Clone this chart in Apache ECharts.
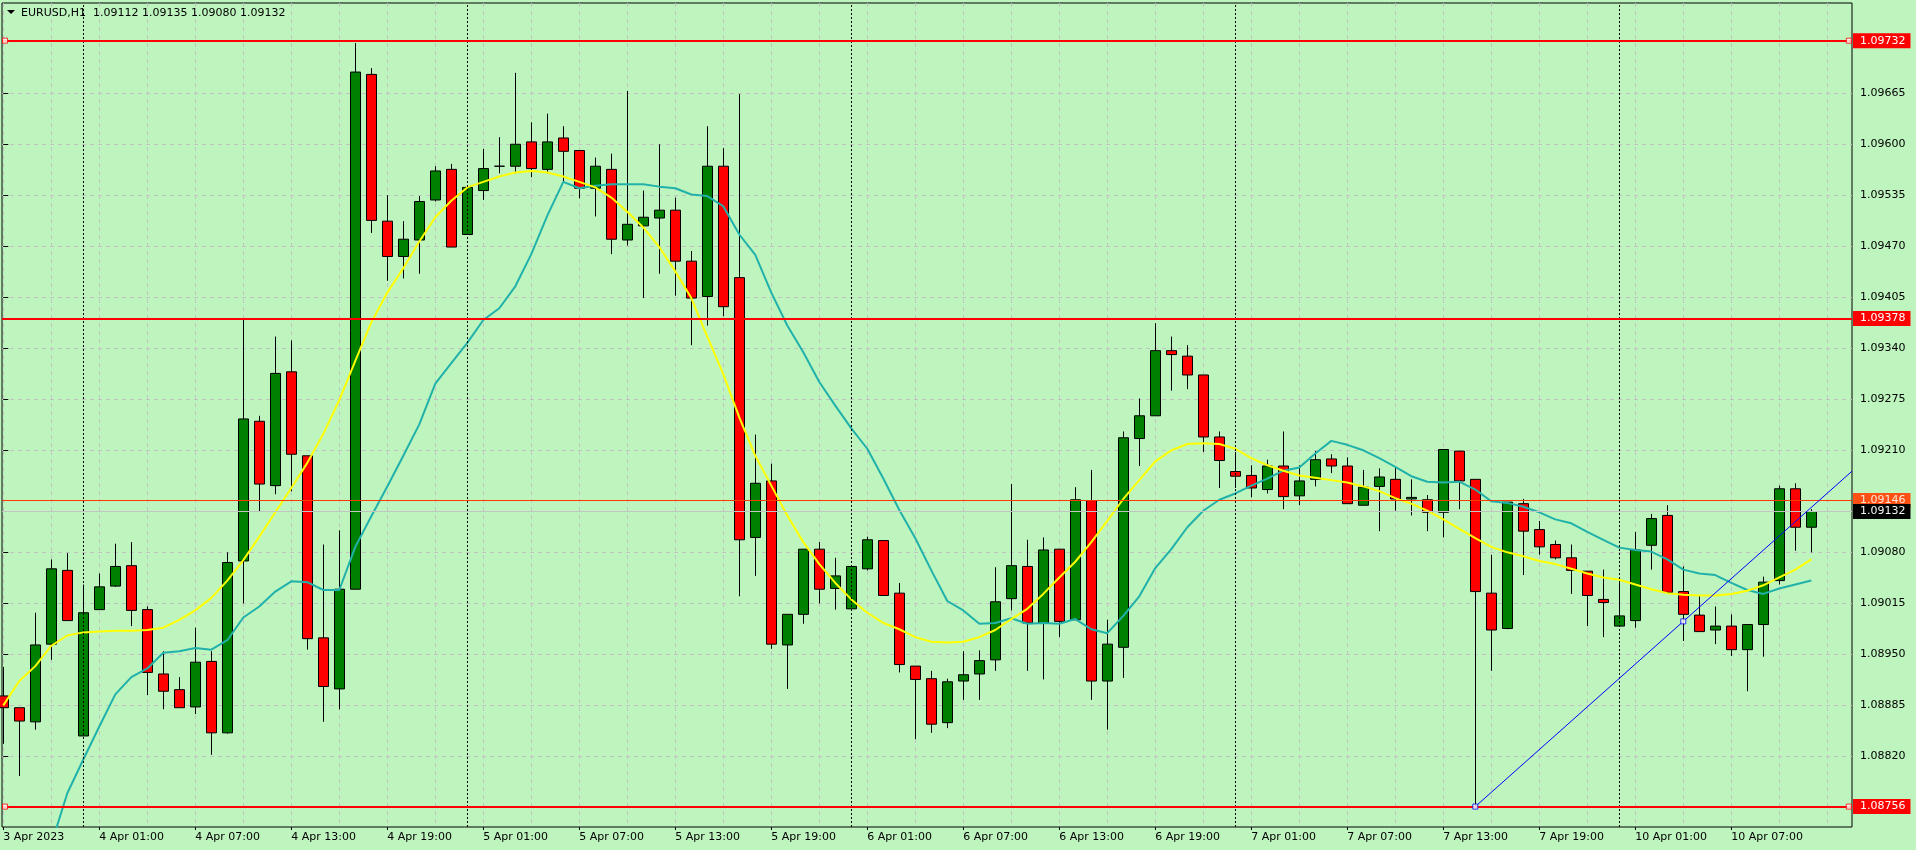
<!DOCTYPE html>
<html>
<head>
<meta charset="utf-8">
<script src="https://cdn.jsdelivr.net/npm/echarts@6.0.0/dist/echarts.min.js"></script>
<style>
html,body{margin:0;padding:0;background:#BEF4BE;}
#chart{width:1916px;height:850px;}
</style>
</head>
<body>
<div id="chart"></div>
<script>
// ---------- DATA ----------
const symbolName = 'EURUSD,H1';

const opens = [1.08897,1.08882,1.08864,1.08963,1.09057,1.08846,1.09007,1.09037,1.09063,1.09007,
1.08925,1.08905,1.08883,1.08941,1.08850,1.09069,1.09247,1.09165,1.09310,1.09203,
1.08971,1.08906,1.09033,1.09689,1.09502,1.09457,1.09478,1.09529,1.09568,1.09485,
1.09541,1.09572,1.09572,1.09603,1.09568,1.09608,1.09592,1.09544,1.09568,1.09478,
1.09496,1.09506,1.09516,1.09451,1.09406,1.09572,1.09430,1.09099,1.09171,1.08962,
1.09001,1.09084,1.09034,1.09008,1.09059,1.09095,1.09028,1.08935,1.08919,1.08863,
1.08916,1.08925,1.08943,1.09021,1.09062,1.08990,1.09084,1.08994,1.09146,1.08916,
1.08959,1.09225,1.09254,1.09337,1.09330,1.09306,1.09227,1.09183,1.09178,1.09160,
1.09190,1.09152,1.09173,1.09199,1.09190,1.09140,1.09164,1.09173,1.09148,1.09147,
1.09131,1.09209,1.09173,1.09028,1.08983,1.09142,1.09109,1.09090,1.09073,1.09056,
1.09020,1.08986,1.08993,1.09089,1.09127,1.09030,1.09000,1.08981,1.08986,1.08956,
1.08988,1.09044,1.09161,1.09112];

const highs = [1.08934,1.08882,1.09003,1.09071,1.09079,1.09039,1.09053,1.09091,1.09093,1.09011,
1.08954,1.08921,1.08984,1.08954,1.09080,1.09376,1.09254,1.09355,1.09350,1.09203,
1.09090,1.09108,1.09729,1.09697,1.09535,1.09502,1.09534,1.09572,1.09575,1.09545,
1.09594,1.09609,1.09691,1.09628,1.09639,1.09623,1.09592,1.09583,1.09588,1.09668,
1.09541,1.09600,1.09532,1.09464,1.09623,1.09595,1.09664,1.09230,1.09193,1.09001,
1.09084,1.09093,1.09073,1.09062,1.09100,1.09095,1.09041,1.08935,1.08929,1.08919,
1.08954,1.08955,1.09061,1.09167,1.09096,1.09099,1.09084,1.09163,1.09185,1.08994,
1.09234,1.09276,1.09372,1.09355,1.09344,1.09306,1.09234,1.09208,1.09191,1.09198,
1.09234,1.09191,1.09209,1.09205,1.09201,1.09185,1.09187,1.09189,1.09173,1.09153,
1.09211,1.09209,1.09173,1.09077,1.09144,1.09148,1.09120,1.09095,1.09090,1.09056,
1.09058,1.09041,1.09106,1.09129,1.09140,1.09062,1.09025,1.09011,1.09001,1.08988,
1.09049,1.09165,1.09168,1.09135];

const lows = [1.08836,1.08795,1.08854,1.08943,1.08993,1.08846,1.09007,1.09036,1.08986,1.08898,
1.08880,1.08882,1.08874,1.08822,1.08849,1.09015,1.09132,1.09154,1.09158,1.08956,
1.08864,1.08880,1.09033,1.09487,1.09426,1.09429,1.09435,1.09527,1.09469,1.09485,
1.09529,1.09563,1.09563,1.09558,1.09563,1.09552,1.09531,1.09508,1.09460,1.09471,
1.09404,1.09435,1.09407,1.09344,1.09369,1.09381,1.09024,1.09050,1.08957,1.08906,
1.08989,1.09015,1.09007,1.09008,1.09057,1.09025,1.08927,1.08842,1.08850,1.08856,
1.08892,1.08892,1.08929,1.09006,1.08929,1.08918,1.08972,1.08994,1.08892,1.08854,
1.08920,1.09190,1.09254,1.09286,1.09288,1.09208,1.09162,1.09162,1.09150,1.09155,
1.09135,1.09140,1.09164,1.09181,1.09142,1.09140,1.09107,1.09133,1.09127,1.09107,
1.09099,1.09135,1.08756,1.08929,1.08982,1.09051,1.09077,1.09071,1.09027,1.08986,
1.08972,1.08986,1.08984,1.09058,1.09029,1.08967,1.08979,1.08963,1.08948,1.08903,
1.08947,1.09039,1.09082,1.09080];

const closes = [1.08882,1.08865,1.08962,1.09059,1.08993,1.09003,1.09036,1.09062,1.09006,1.08927,
1.08903,1.08882,1.08940,1.08850,1.09067,1.09250,1.09167,1.09308,1.09205,1.08970,
1.08909,1.09033,1.09692,1.09503,1.09457,1.09479,1.09527,1.09566,1.09469,1.09545,
1.09569,1.09572,1.09600,1.09569,1.09603,1.09591,1.09544,1.09572,1.09479,1.09498,
1.09507,1.09516,1.09451,1.09404,1.09572,1.09393,1.09096,1.09168,1.08963,1.09001,
1.09084,1.09033,1.09050,1.09062,1.09096,1.09025,1.08937,1.08918,1.08861,1.08915,
1.08924,1.08942,1.09017,1.09063,1.08990,1.09083,1.08992,1.09147,1.08916,1.08963,
1.09226,1.09254,1.09337,1.09332,1.09306,1.09227,1.09197,1.09177,1.09162,1.09190,
1.09151,1.09171,1.09198,1.09190,1.09142,1.09163,1.09176,1.09148,1.09150,1.09131,
1.09211,1.09171,1.09030,1.08981,1.09144,1.09107,1.09087,1.09073,1.09057,1.09025,
1.09016,1.08999,1.09083,1.09123,1.09029,1.09001,1.08979,1.08986,1.08956,1.08988,
1.09042,1.09161,1.09112,1.09132];

// yellow moving average (one value per bar)
const maFast = [1.08885,1.08916,1.08935,1.08961,1.08974,1.08978,1.08979,1.08980,1.08980,1.08981,
1.08984,1.08994,1.09006,1.09022,1.09044,1.09070,1.09100,1.09131,1.09162,1.09194,
1.09231,1.09274,1.09324,1.09373,1.09411,1.09442,1.09476,1.09507,1.09528,1.09545,
1.09552,1.09559,1.09564,1.09566,1.09564,1.09559,1.09552,1.09545,1.09532,1.09514,
1.09494,1.09469,1.09438,1.09404,1.09355,1.09307,1.09252,1.09203,1.09165,1.09127,
1.09093,1.09065,1.09041,1.09020,1.09003,1.08990,1.08982,1.08972,1.08966,1.08965,
1.08966,1.08972,1.08981,1.08995,1.09008,1.09027,1.09048,1.09068,1.09093,1.09120,
1.09148,1.09172,1.09196,1.09210,1.09218,1.09219,1.09218,1.09212,1.09200,1.09191,
1.09184,1.09178,1.09175,1.09172,1.09169,1.09164,1.09158,1.09149,1.09142,1.09133,
1.09122,1.09110,1.09098,1.09087,1.09080,1.09075,1.09069,1.09065,1.09059,1.09053,
1.09048,1.09045,1.09039,1.09033,1.09028,1.09026,1.09025,1.09025,1.09027,1.09031,
1.09038,1.09048,1.09058,1.09071];

// teal moving average (starts below the visible range on the left)
const maSlow = [null,null,null,1.08708,1.08773,1.08816,1.08858,1.08899,1.08921,1.08932,
1.08952,1.08954,1.08958,1.08956,1.08968,1.08997,1.09011,1.09030,1.09043,1.09042,
1.09032,1.09032,1.09087,1.09126,1.09164,1.09203,1.09243,1.09295,1.09321,1.09347,
1.09376,1.09391,1.09419,1.09460,1.09509,1.09552,1.09544,1.09547,1.09549,1.09549,
1.09549,1.09546,1.09544,1.09536,1.09534,1.09521,1.09485,1.09459,1.09411,1.09369,
1.09335,1.09297,1.09267,1.09238,1.09212,1.09174,1.09134,1.09098,1.09057,1.09018,
1.09006,1.08989,1.08990,1.08996,1.08989,1.08990,1.08989,1.08995,1.08982,1.08977,
1.08999,1.09024,1.09060,1.09084,1.09112,1.09133,1.09147,1.09155,1.09165,1.09174,
1.09184,1.09188,1.09206,1.09222,1.09217,1.09210,1.09200,1.09189,1.09177,1.09170,
1.09169,1.09170,1.09160,1.09145,1.09143,1.09138,1.09131,1.09122,1.09117,1.09106,
1.09096,1.09086,1.09083,1.09081,1.09071,1.09058,1.09053,1.09051,1.09041,1.09032,
1.09027,1.09034,1.09039,1.09044];

// time axis labels (bar index -> text)
const timeLabelBars = [0,6,12,18,24,30,36,42,48,54,60,66,72,78,84,90,96,102,108];
const timeLabels = ['3 Apr 2023','4 Apr 01:00','4 Apr 07:00','4 Apr 13:00','4 Apr 19:00',
'5 Apr 01:00','5 Apr 07:00','5 Apr 13:00','5 Apr 19:00','6 Apr 01:00','6 Apr 07:00',
'6 Apr 13:00','6 Apr 19:00','7 Apr 01:00','7 Apr 07:00','7 Apr 13:00','7 Apr 19:00',
'10 Apr 01:00','10 Apr 07:00'];
const gridBars = [0,3,6,9,12,15,18,21,24,27,30,33,36,39,42,45,48,51,54,57,60,63,66,69,72,75,78,81,84,87,90,93,96,99,102,105,108,111,114];
const daySeparatorBars = [5,29,53,77,101];

// price axis tick labels
const priceTicks = [1.08820,1.08885,1.08950,1.09015,1.09080,1.09210,1.09275,1.09340,1.09405,1.09470,1.09535,1.09600,1.09665];

// horizontal levels
const levelPrices = [1.09732, 1.09378, 1.08756];
const orangeLevel = 1.09146;
const bidPrice = 1.09132;

// trend line anchors [bar, price]
const trendAnchors = [[92, 1.08756], [105, 1.08992]];

// ---------- CHART ----------
const BG = '#BEF4BE';
const FONT = 'DejaVu Sans';
const X_MIN = -0.081, X_MAX = 115.544;
const Y_MIN = 1.08730, Y_MAX = 1.09780;

const candleData = opens.map((o, i) => [i, o, closes[i], lows[i], highs[i]]);
const fastData = maFast.map((v, i) => [i, v]);
const slowData = maSlow.map((v, i) => [i, v]).filter(d => d[1] !== null);

const slope = (trendAnchors[1][1] - trendAnchors[0][1]) / (trendAnchors[1][0] - trendAnchors[0][0]);
const trendData = [trendAnchors[0], [X_MAX, trendAnchors[0][1] + slope * (X_MAX - trendAnchors[0][0])]];

const handleData = [];
[levelPrices[0], levelPrices[2]].forEach(p => { handleData.push([X_MIN + 0.19, p]); handleData.push([X_MAX - 0.2, p]); });

const lblBase = {show: true, position: 'end', distance: 1, fontFamily: FONT, fontSize: 11, padding: [1, 5, 1, 7], lineHeight: 13};

const levelLines = levelPrices.map(p => ({
  yAxis: p,
  lineStyle: {color: '#FF0000', width: 2, type: 'solid'},
  label: Object.assign({}, lblBase, {formatter: p.toFixed(5), color: '#FFFFFF', backgroundColor: '#FF0000'})
}));
levelLines.push({
  yAxis: orangeLevel,
  lineStyle: {color: '#FF3A00', width: 1, type: 'solid'},
  label: Object.assign({}, lblBase, {formatter: orangeLevel.toFixed(5), color: '#FFE8D8', backgroundColor: '#FF5014'})
});
levelLines.push({
  yAxis: bidPrice,
  lineStyle: {color: '#C4C4C4', width: 1, type: 'solid'},
  label: Object.assign({}, lblBase, {formatter: bidPrice.toFixed(5), color: '#F4F4F4', backgroundColor: '#000000'})
});

const labelMap = {};
timeLabelBars.forEach((b, k) => labelMap[b] = timeLabels[k]);

const last = opens.length - 1;
const headerPrices = [opens[last], highs[last], lows[last], closes[last]].map(v => v.toFixed(5)).join(' ');

const chart = echarts.init(document.getElementById('chart'), null, {renderer: 'canvas'});
chart.setOption({
  backgroundColor: BG,
  animation: false,
  textStyle: {fontFamily: FONT},
  grid: {left: 2, top: 3, width: 1850, height: 824, show: true, borderColor: '#000', borderWidth: 1, backgroundColor: 'transparent', outerBoundsMode: 'none'},
  xAxis: [{
    type: 'value', min: X_MIN, max: X_MAX,
    axisLine: {show: false},
    axisTick: {show: false, customValues: gridBars},
    axisLabel: {customValues: timeLabelBars, formatter: v => labelMap[Math.round(v)] || '', align: 'left', margin: 5, color: '#000', fontFamily: FONT, fontSize: 11},
    splitLine: {show: true, lineStyle: {color: '#C2C2C2', type: [4, 4], width: 1}}
  }, {
    type: 'value', min: X_MIN, max: X_MAX, position: 'bottom',
    axisLine: {show: false},
    axisTick: {show: true, length: 3, inside: false, customValues: timeLabelBars, lineStyle: {color: '#000', width: 1}},
    axisLabel: {show: false},
    splitLine: {show: false}
  }],
  yAxis: {
    type: 'value', position: 'right', min: Y_MIN, max: Y_MAX, scale: true,
    axisLine: {show: false},
    axisTick: {show: true, length: 5, customValues: priceTicks, lineStyle: {color: '#000'}},
    axisLabel: {customValues: priceTicks, formatter: v => v.toFixed(5), margin: 8, color: '#000', fontFamily: FONT, fontSize: 11},
    splitLine: {show: true, lineStyle: {color: '#C2C2C2', type: [4, 4], width: 1}}
  },
  graphic: [
    {type: 'polygon', shape: {points: [[7, 10], [15, 10], [11, 14]]}, style: {fill: '#000'}, z: 100},
    {type: 'text', x: 21, y: 13, style: {text: symbolName, font: '11px "DejaVu Sans"', fill: '#000', verticalAlign: 'middle'}, z: 100},
    {type: 'text', x: 93, y: 13, style: {text: headerPrices, font: '11px "DejaVu Sans"', fill: '#000', verticalAlign: 'middle'}, z: 100}
  ],
  series: [
    {
      name: 'EURUSD', type: 'candlestick', z: 2, barWidth: 10,
      data: candleData,
      encode: {x: 0, y: [1, 2, 3, 4]},
      itemStyle: {color: '#008000', color0: '#FF0000', borderColor: '#000', borderColor0: '#000', borderColorDoji: '#000', borderWidth: 1},
      markLine: {silent: true, symbol: ['none', 'none'], label: {show: false}, precision: 5,
        lineStyle: {color: '#000', width: 1, type: [2, 2]},
        data: daySeparatorBars.map(b => ({xAxis: b}))}
    },
    {name: 'maSlow', type: 'line', z: 3, data: slowData, showSymbol: false, symbol: 'none', lineStyle: {color: '#20B2AA', width: 2}, clip: true},
    {name: 'maFast', type: 'line', z: 4, data: fastData, showSymbol: false, symbol: 'none', lineStyle: {color: '#FFFF00', width: 2}, clip: true},
    {name: 'trend', type: 'line', z: 6, data: trendData, showSymbol: false, symbol: 'none', lineStyle: {color: '#0000FF', width: 1}, clip: true,
      markLine: {silent: true, symbol: ['none', 'none'], precision: 5, data: levelLines}},
    {name: 'trendHandles', type: 'scatter', z: 7, data: trendAnchors, symbol: 'rect', symbolSize: 5, itemStyle: {color: '#FFFFFF', borderColor: '#0000FF', borderWidth: 1}},
    {name: 'levelHandles', type: 'scatter', z: 7, data: handleData, symbol: 'rect', symbolSize: 5, itemStyle: {color: '#FFFFFF', borderColor: '#FF0000', borderWidth: 1}}
  ]
});
</script>
</body>
</html>
